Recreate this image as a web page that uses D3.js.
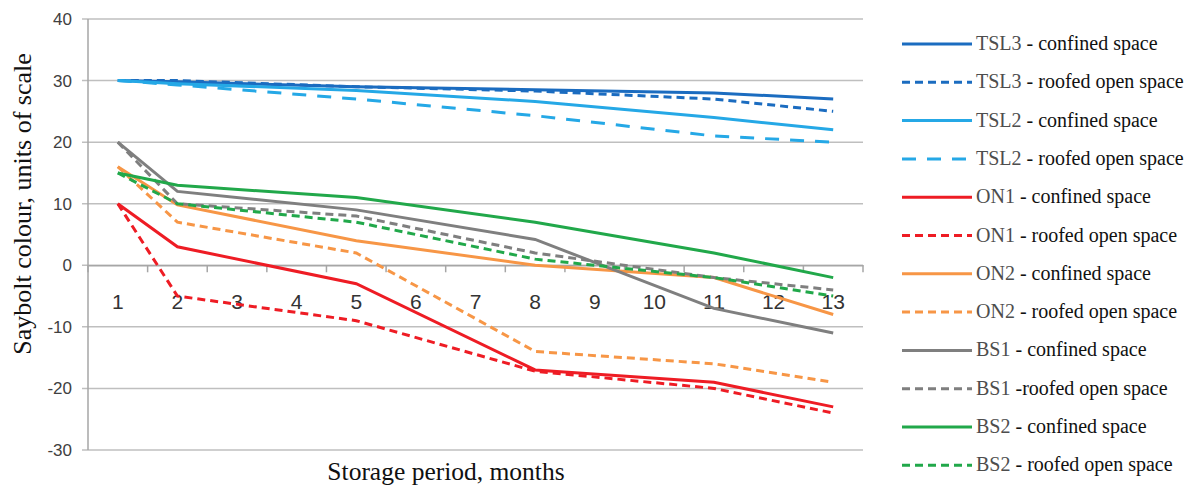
<!DOCTYPE html>
<html>
<head>
<meta charset="utf-8">
<script src="https://cdn.jsdelivr.net/npm/d3@7"></script>
<style>
  body { margin: 0; background: #fff; }
  .serif { font-family: "Liberation Serif", "Times New Roman", serif; }
</style>
</head>
<body>
<div id="chart"></div>
<script>
const months = [1, 2, 3, 4, 5, 6, 7, 8, 9, 10, 11, 12, 13];
const yTicks = [-30, -20, -10, 0, 10, 20, 30, 40];

// measured only at months 1, 2, 5, 8, 11, 13
const tsl3Confined = [30, 29.8, null, null, 29, null, null, 28.5, null, null, 28, null, 27];
const tsl3Roofed   = [30, 30, null, null, 29, null, null, 28.3, null, null, 27, null, 25];
const tsl2Confined = [30, 29.5, null, null, 28.4, null, null, 26.6, null, null, 24, null, 22];
const tsl2Roofed   = [30, 29.3, null, null, 27, null, null, 24.3, null, null, 21, null, 20];
const on1Confined  = [10, 3, null, null, -3, null, null, -17, null, null, -19, null, -23];
const on1Roofed    = [10, -5, null, null, -9, null, null, -17.2, null, null, -20, null, -24];
const on2Confined  = [16, 9.8, null, null, 4, null, null, 0, null, null, -2, null, -8];
const on2Roofed    = [16, 7, null, null, 2, null, null, -14, null, null, -16, null, -19];
const bs1Confined  = [20, 12, null, null, 9, null, null, 4.2, null, null, -7, null, -11];
const bs1Roofed    = [20, 10, null, null, 8, null, null, 2, null, null, -2, null, -4];
const bs2Confined  = [15, 13, null, null, 11, null, null, 7, null, null, 2, null, -2];
const bs2Roofed    = [15, 10, null, null, 7, null, null, 1, null, null, -2, null, -5];

const seriesNames = ["TSL3", "TSL3", "TSL2", "TSL2", "ON1", "ON1", "ON2", "ON2", "BS1", "BS1", "BS2", "BS2"];
const seriesSuffix = ["- confined space", "- roofed open space", "- confined space", "- roofed open space",
  "- confined space", "- roofed open space", "- confined space", "- roofed open space",
  "- confined space", "-roofed open space", "- confined space", "- roofed open space"];

const series = [
  {values: tsl3Confined, color: "#1b6cc0", dash: null},
  {values: tsl3Roofed,   color: "#1b6cc0", dash: "8,5"},
  {values: tsl2Confined, color: "#25a8e6", dash: null},
  {values: tsl2Roofed,   color: "#25a8e6", dash: "14,11"},
  {values: on1Confined,  color: "#ee1c24", dash: null},
  {values: on1Roofed,    color: "#ee1c24", dash: "8,5"},
  {values: on2Confined,  color: "#f79646", dash: null},
  {values: on2Roofed,    color: "#f79646", dash: "8,5"},
  {values: bs1Confined,  color: "#7f7f7f", dash: null},
  {values: bs1Roofed,    color: "#7f7f7f", dash: "8,5"},
  {values: bs2Confined,  color: "#21a84a", dash: null},
  {values: bs2Roofed,    color: "#21a84a", dash: "8,5"}
];

const width = 1194, height = 485;
const plot = {left: 88, right: 863, top: 19, bottom: 450};
const sans = "'Liberation Sans', Arial, sans-serif";

const svg = d3.select("#chart")
    .append("svg")
    .attr("width", width)
    .attr("height", height);

const x = d3.scaleBand()
    .domain(months)
    .range([plot.left, plot.right]);

const y = d3.scaleLinear()
    .domain([-30, 40])
    .range([plot.bottom, plot.top]);

// gridlines
svg.append("g")
    .selectAll("line")
    .data(yTicks)
    .enter().append("line")
    .attr("x1", plot.left - 6)
    .attr("x2", plot.right)
    .attr("y1", d => y(d))
    .attr("y2", d => y(d))
    .attr("stroke", "#bfbfbf")
    .attr("stroke-width", 1.5);

// y axis line + labels
svg.append("line")
    .attr("x1", plot.left).attr("x2", plot.left)
    .attr("y1", y(40)).attr("y2", y(-30))
    .attr("stroke", "#a6a6a6")
    .attr("stroke-width", 1.5);

svg.append("g")
    .selectAll("text")
    .data(yTicks)
    .enter().append("text")
    .attr("x", 72)
    .attr("y", d => y(d) + 6)
    .attr("text-anchor", "end")
    .style("font-family", sans)
    .style("font-size", "17px")
    .attr("fill", "#404040")
    .text(d => d);

// x axis at zero
const xAxis = svg.append("g")
    .attr("transform", `translate(0,${y(0)})`)
    .call(d3.axisBottom(x).tickSize(0).tickPadding(29));
xAxis.select(".domain").attr("stroke", "#a6a6a6").attr("stroke-width", 1.5);
xAxis.selectAll("text")
    .style("font-size", "21px")
    .style("font-family", sans)
    .attr("fill", "#333");

svg.append("g")
    .selectAll("line")
    .data(months.concat([14]))
    .enter().append("line")
    .attr("x1", (d, i) => plot.left + i * x.step())
    .attr("x2", (d, i) => plot.left + i * x.step())
    .attr("y1", y(0))
    .attr("y2", y(0) + 7)
    .attr("stroke", "#a6a6a6")
    .attr("stroke-width", 1.5);

// lines
const line = d3.line()
    .x(d => x(d.m) + x.bandwidth() / 2)
    .y(d => y(d.v));

series.forEach(s => {
    const pts = months.map((m, i) => ({m: m, v: s.values[i]})).filter(d => d.v !== null);
    svg.append("path")
        .datum(pts)
        .attr("fill", "none")
        .attr("stroke", s.color)
        .attr("stroke-width", 3)
        .attr("stroke-dasharray", s.dash)
        .attr("d", line);
});

// axis titles
svg.append("text")
    .attr("class", "serif")
    .attr("transform", "translate(31,204) rotate(-90)")
    .attr("text-anchor", "middle")
    .style("font-size", "26px")
    .attr("fill", "#111")
    .text("Saybolt colour, units of scale");

svg.append("text")
    .attr("class", "serif")
    .attr("x", 446)
    .attr("y", 480)
    .attr("text-anchor", "middle")
    .style("font-size", "25.5px")
    .attr("fill", "#111")
    .text("Storage period, months");

// legend
const legend = svg.append("g")
    .selectAll("g")
    .data(series)
    .enter().append("g")
    .attr("transform", (d, i) => `translate(902,${44 + i * 38.3})`);

legend.append("line")
    .attr("x1", 0).attr("x2", 70)
    .attr("stroke", d => d.color)
    .attr("stroke-width", 3)
    .attr("stroke-dasharray", d => d.dash);

legend.each(function(d, i) {
    const g = d3.select(this);
    const name = g.append("text")
        .attr("class", "serif")
        .attr("x", 74)
        .attr("y", 6)
        .style("font-size", "20px")
        .attr("fill", "#4d4d4d")
        .text(seriesNames[i]);
    const w = name.node().getComputedTextLength();
    g.append("text")
        .attr("class", "serif")
        .attr("x", 74 + w + 5)
        .attr("y", 6)
        .style("font-size", "20px")
        .attr("fill", "#111")
        .text(seriesSuffix[i]);
});
</script>
</body>
</html>
